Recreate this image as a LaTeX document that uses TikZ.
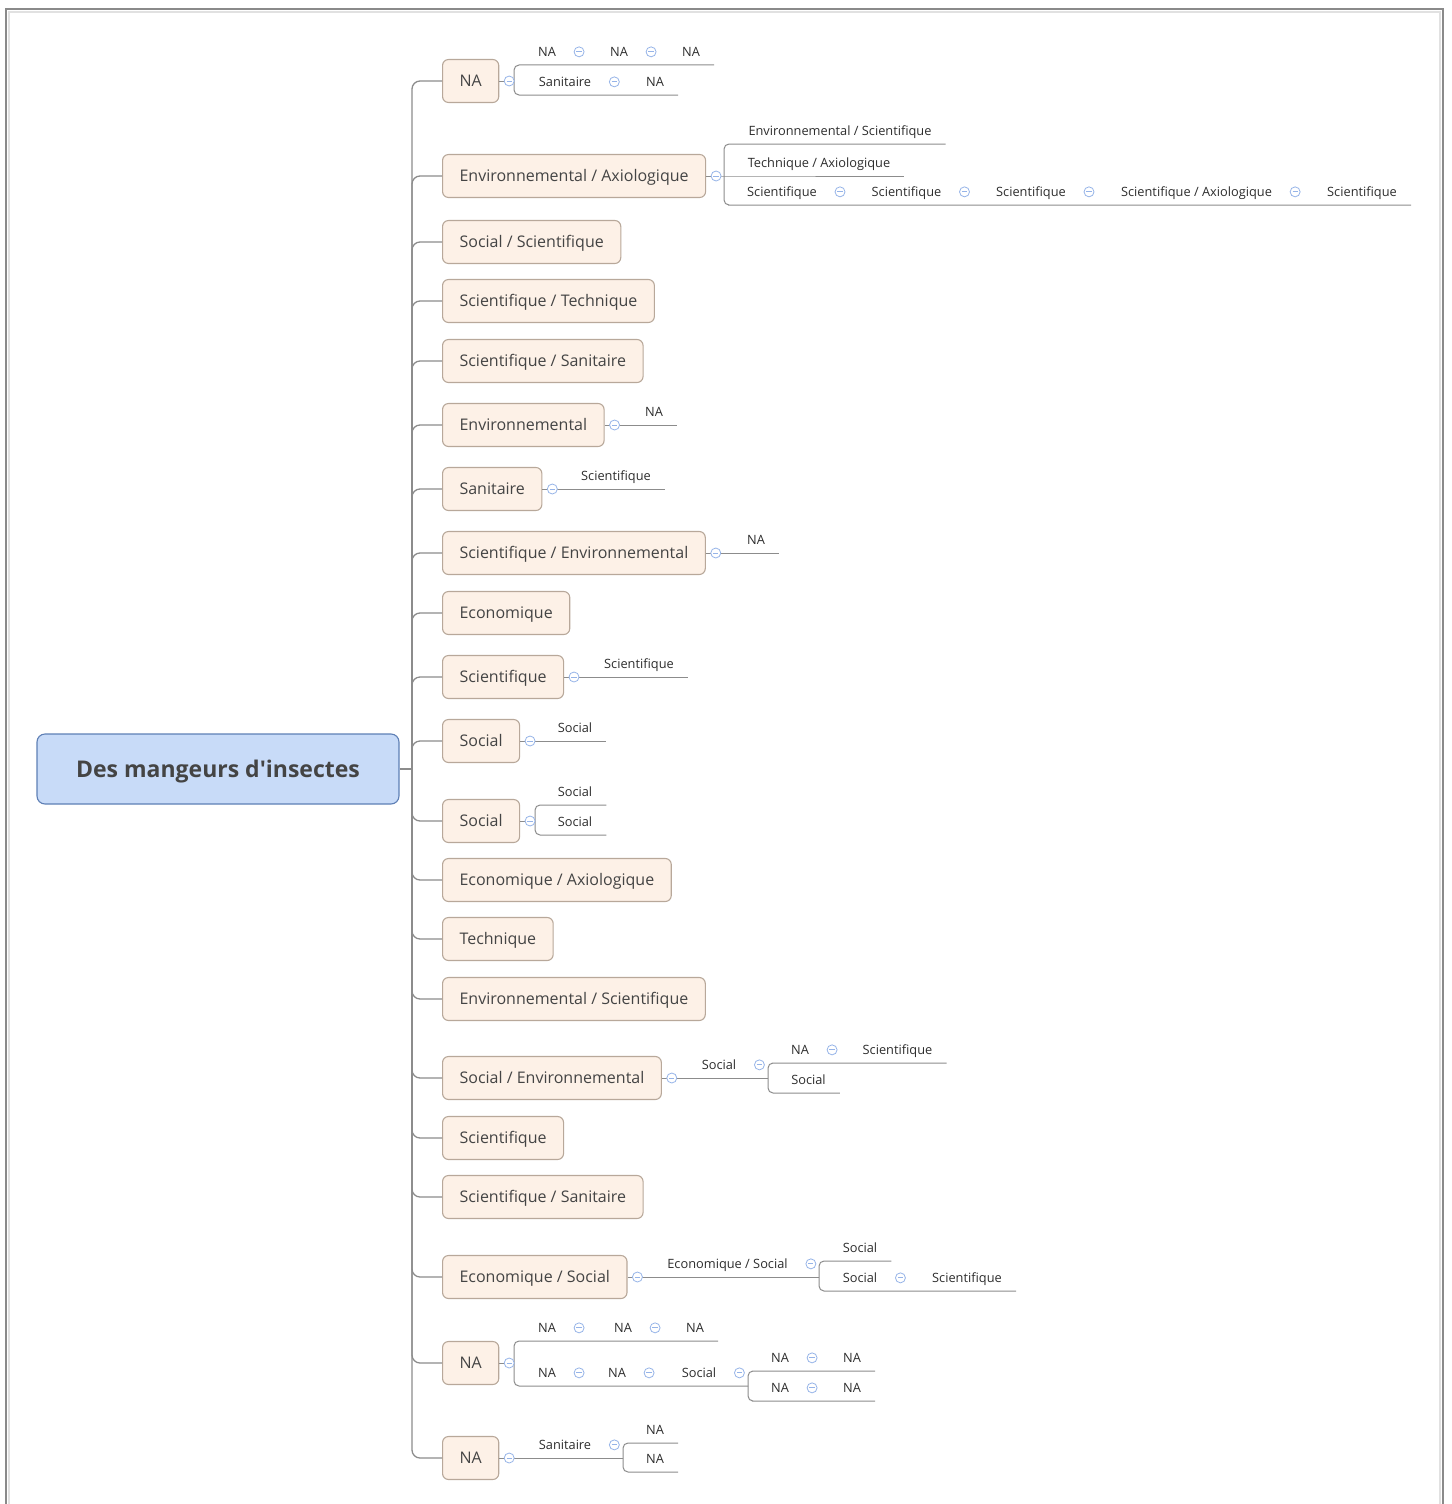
\documentclass[tikz,border=0pt]{standalone}
\usepackage{fontspec}
\setmainfont{Open Sans}
\usetikzlibrary{positioning}
\definecolor{rootfill}{RGB}{200,219,248}
\definecolor{rootline}{RGB}{94,127,181}
\definecolor{topicfill}{RGB}{253,241,231}
\definecolor{topicline}{RGB}{184,168,154}
\definecolor{inktext}{RGB}{68,68,68}
\definecolor{leaftext}{RGB}{45,45,45}
\definecolor{linegray}{RGB}{140,140,140}
\definecolor{btnblue}{RGB}{150,180,232}
\definecolor{framegray}{RGB}{138,138,138}
\definecolor{frameshade}{RGB}{225,225,225}

\begin{document}
\begin{tikzpicture}[x=1pt,y=-1pt,
root/.style={draw=rootline,fill=rootfill,rounded corners=8pt,line width=1.1pt,
minimum width=362pt,minimum height=70pt,text height=16pt,text depth=0pt,text=inktext,
font=\fontsize{23}{27}\selectfont\bfseries},
topic/.style={draw=topicline,fill=topicfill,rounded corners=6pt,line width=1.1pt,anchor=west,
minimum height=43pt,inner xsep=17pt,text height=11pt,text depth=0pt,text=inktext,
font=\fontsize{16}{19}\selectfont},
leaf/.style={anchor=south,inner xsep=14pt,inner ysep=5.4pt,text height=9.5pt,text depth=3pt,
text=leaftext,font=\fontsize{12.8}{15}\selectfont},
btn/.style={circle,draw=btnblue,fill=white,line width=0.8pt,inner sep=0pt,minimum size=10pt,
path picture={\draw[btnblue,line width=0.8pt]([xshift=-2.6pt]path picture bounding box.center)
--([xshift=2.6pt]path picture bounding box.center);}},
trunk/.style={draw=linegray,line width=1.3pt,rounded corners=8pt},
sub/.style={draw=linegray,line width=1pt,rounded corners=5pt}]
\useasboundingbox (0,0) rectangle (1451,1504);
\draw[frameshade,line width=2pt] (9,1504) -- (9,12) -- (1440,12) -- (1440,1504);
\draw[framegray,line width=2pt] (6,1504) -- (6,9) -- (1443,9) -- (1443,1504);

% root and main topics
\node[root] (root) at (218,769) {Des mangeurs d\textquotesingle insectes};
\coordinate (hub) at (412,769);
\node[topic] (b1) at (442,81) {NA};
\node[topic] (b2) at (442,176) {Environnemental / Axiologique};
\node[topic] (b3) at (442,242) {Social / Scientifique};
\node[topic] (b4) at (442,301) {Scientifique / Technique};
\node[topic] (b5) at (442,361) {Scientifique / Sanitaire};
\node[topic] (b6) at (442,425) {Environnemental};
\node[topic] (b7) at (442,489) {Sanitaire};
\node[topic] (b8) at (442,553) {Scientifique / Environnemental};
\node[topic] (b9) at (442,613) {Economique};
\node[topic] (b10) at (442,677) {Scientifique};
\node[topic] (b11) at (442,741) {Social};
\node[topic] (b12) at (442,821) {Social};
\node[topic] (b13) at (442,880) {Economique / Axiologique};
\node[topic] (b14) at (442,939) {Technique};
\node[topic] (b15) at (442,999) {Environnemental / Scientifique};
\node[topic] (b16) at (442,1078) {Social / Environnemental};
\node[topic] (b17) at (442,1138) {Scientifique};
\node[topic] (b18) at (442,1197) {Scientifique / Sanitaire};
\node[topic] (b19) at (442,1277) {Economique / Social};
\node[topic] (b20) at (442,1363) {NA};
\node[topic] (b21) at (442,1458) {NA};
\draw[trunk] (root.east) -- (hub);
\foreach \i in {1,...,21} \draw[trunk] (hub) |- (b\i.west);

% sub topics
\node[leaf] (l1a) at (547,65) {NA};
\node[leaf] (l1b) at (619,65) {NA};
\node[leaf] (l1c) at (691,65) {NA};
\node[leaf] (l1d) at (565,95) {Sanitaire};
\node[leaf] (l1e) at (655,95) {NA};
\node[leaf] (l2a) at (840,144) {Environnemental / Scientifique};
\node[leaf] (l2b) at (819,176) {Technique / Axiologique};
\node[leaf] (l2c) at (782,205) {Scientifique};
\node[leaf] (l2d) at (906.5,205) {Scientifique};
\node[leaf] (l2e) at (1031,205) {Scientifique};
\node[leaf] (l2f) at (1196.5,205) {Scientifique / Axiologique};
\node[leaf] (l2g) at (1362,205) {Scientifique};
\node[leaf] (l6) at (654,425) {NA};
\node[leaf] (l7) at (616,489) {Scientifique};
\node[leaf] (l8) at (756,553) {NA};
\node[leaf] (l10) at (639,677) {Scientifique};
\node[leaf] (l11) at (575,741) {Social};
\node[leaf] (l12a) at (575,805) {Social};
\node[leaf] (l12b) at (575,835) {Social};
\node[leaf] (l16) at (719,1078) {Social};
\node[leaf] (l16a) at (800,1063) {NA};
\node[leaf] (l16b) at (897.5,1063) {Scientifique};
\node[leaf] (l16c) at (808.5,1093) {Social};
\node[leaf] (l19) at (727.5,1277) {Economique / Social};
\node[leaf] (l19a) at (860,1261) {Social};
\node[leaf] (l19b) at (860,1291) {Social};
\node[leaf] (l19c) at (967,1291) {Scientifique};
\node[leaf] (l20a) at (547,1341) {NA};
\node[leaf] (l20b) at (623,1341) {NA};
\node[leaf] (l20c) at (695,1341) {NA};
\node[leaf] (l20d) at (547,1386) {NA};
\node[leaf] (l20e) at (617,1386) {NA};
\node[leaf] (l20f) at (699,1386) {Social};
\node[leaf] (l20g) at (780,1371) {NA};
\node[leaf] (l20h) at (852,1371) {NA};
\node[leaf] (l20i) at (780,1401) {NA};
\node[leaf] (l20j) at (852,1401) {NA};
\node[leaf] (l21) at (565,1458) {Sanitaire};
\node[leaf] (l21a) at (655,1443) {NA};
\node[leaf] (l21b) at (655,1472) {NA};

% brackets
\coordinate (k1) at (514,81);
\coordinate (k2) at (724,176);
\coordinate (k12) at (535,821);
\coordinate (k16) at (768,1078);
\coordinate (k19) at (819,1277);
\coordinate (k20) at (514,1363);
\coordinate (k20b) at (748,1386);
\coordinate (k21) at (623,1458);

\draw[sub] (b1.east) -- (k1);
\draw[sub] (k1) |- (l1a.south west) -- (l1c.south east);
\draw[sub] (k1) |- (l1d.south west) -- (l1e.south east);
\draw[sub] (b2.east) -- (k2) -- (l2b.south east);
\draw[sub] (k2) |- (l2a.south east);
\draw[sub] (k2) |- (l2c.south west) -- (l2g.south east);
\draw[sub] (b6.east) -- (l6.south east);
\draw[sub] (b7.east) -- (l7.south east);
\draw[sub] (b8.east) -- (l8.south east);
\draw[sub] (b10.east) -- (l10.south east);
\draw[sub] (b11.east) -- (l11.south east);
\draw[sub] (b12.east) -- (k12);
\draw[sub] (k12) |- (l12a.south east);
\draw[sub] (k12) |- (l12b.south east);
\draw[sub] (b16.east) -- (k16);
\draw[sub] (k16) |- (l16a.south west) -- (l16b.south east);
\draw[sub] (k16) |- (l16c.south east);
\draw[sub] (b19.east) -- (k19);
\draw[sub] (k19) |- (l19a.south east);
\draw[sub] (k19) |- (l19b.south west) -- (l19c.south east);
\draw[sub] (b20.east) -- (k20);
\draw[sub] (k20) |- (l20a.south west) -- (l20c.south east);
\draw[sub] (k20) |- (l20d.south west) -- (k20b);
\draw[sub] (k20b) |- (l20g.south west) -- (l20h.south east);
\draw[sub] (k20b) |- (l20i.south west) -- (l20j.south east);
\draw[sub] (b21.east) -- (k21);
\draw[sub] (k21) |- (l21a.south east);
\draw[sub] (k21) |- (l21b.south east);

% collapse buttons
\foreach \n in {b1,b2,b6,b7,b8,b10,b11,b12,b16,b19,b20,b21}
  \node[btn,right=4.5pt of \n] (c\n) {};
\foreach \n in {l1a,l1b,l1d,l2c,l2d,l2e,l2f,l16,l16a,l19,l19b,l20a,l20b,l20d,l20e,l20f,l20g,l20i,l21}
  \node[btn] (c\n) at ([shift={(9pt,1.3pt)}]\n.east) {};
\end{tikzpicture}
\end{document}
